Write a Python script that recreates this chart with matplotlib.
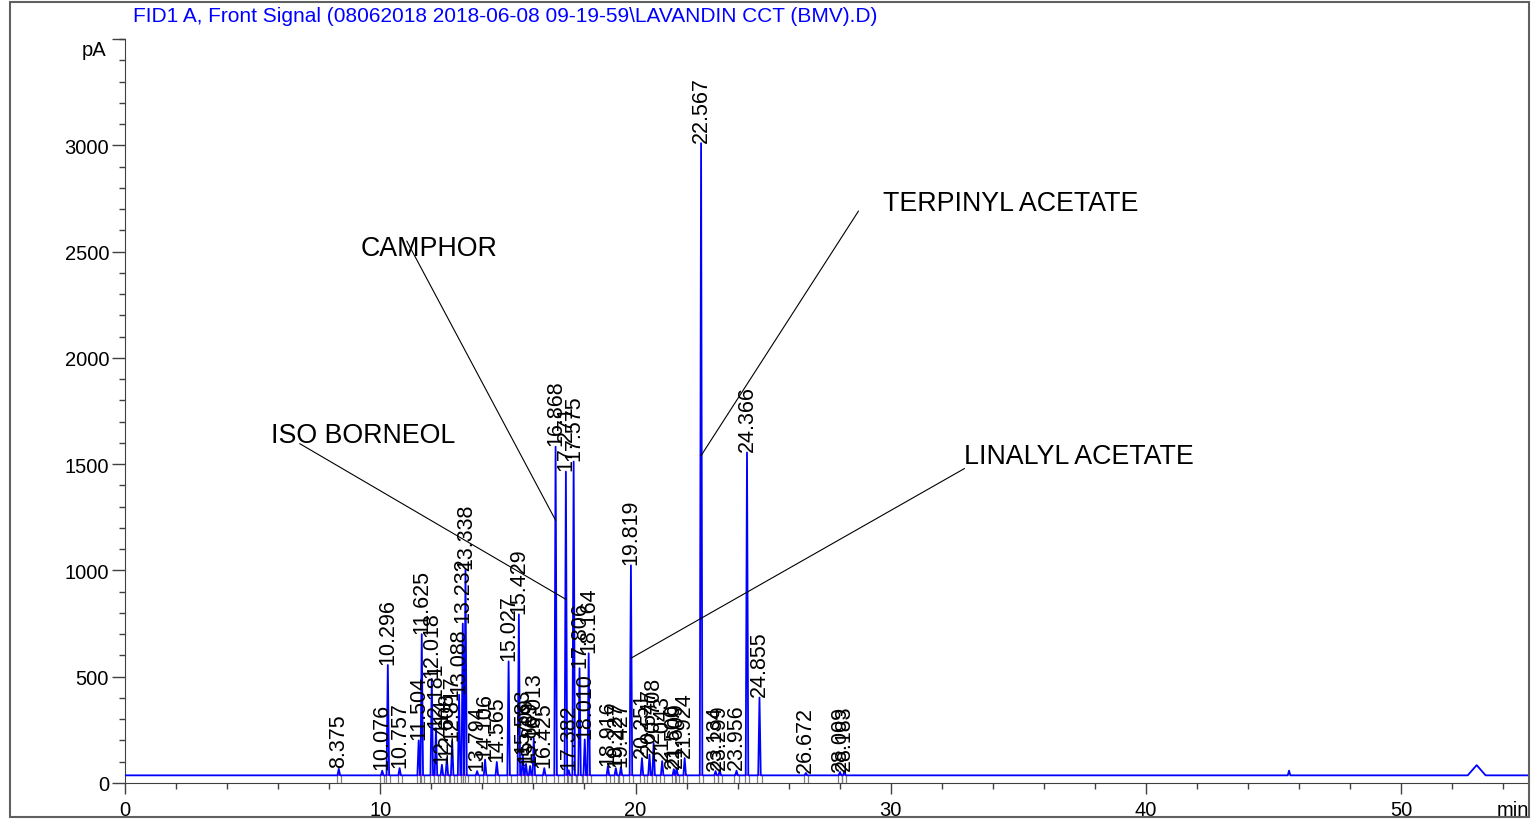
import numpy as np
import matplotlib
matplotlib.use("Agg")
from matplotlib import pyplot as plt
from matplotlib.patches import Rectangle

plt.rcParams['font.family'] = ['Liberation Sans', 'DejaVu Sans']

# peak retention times (min), apex heights (pA) and labels
peak_rt = [8.375, 10.076, 10.296, 10.757, 11.504, 11.625, 12.018, 12.181,
           12.414, 12.608, 12.817, 13.088, 13.232, 13.338, 13.794, 14.106,
           14.565, 15.027, 15.429, 15.583, 15.709, 15.869, 16.013, 16.425,
           16.868, 17.271, 17.382, 17.575, 17.806, 18.010, 18.164, 18.916,
           19.227, 19.427, 19.819, 20.251, 20.547, 20.708, 21.043, 21.500,
           21.609, 21.924, 22.567, 23.134, 23.299, 23.956, 24.366, 24.855,
           26.672, 28.009, 28.183]
peak_height = [67, 58, 555, 70, 200, 700, 490, 258,
               86, 117, 198, 415, 750, 1005, 56, 110,
               99, 572, 793, 133, 90, 80, 211, 70,
               1582, 1465, 60, 1512, 540, 205, 610, 80,
               70, 75, 1024, 117, 133, 188, 103, 65,
               70, 117, 3010, 56, 60, 58, 1555, 402,
               47, 52, 56]
peak_label = ["%.3f" % t for t in peak_rt]

# unlabeled features late in the run
extra_rt = [45.6, 52.95]
extra_height = [58, 84]
extra_width = [0.05, 0.35]

baseline = 36
run_end = 55

# named compounds: target peak rt, point on peak (pA), text position, line start
comp_name = ["CAMPHOR", "ISO BORNEOL", "TERPINYL ACETATE", "LINALYL ACETATE"]
comp_rt = [16.868, 17.271, 22.567, 19.819]
comp_hit = [1236, 864, 1540, 587]
comp_text_x = [9.24, 5.71, 29.7, 32.88]
comp_text_y = [2516, 1638, 2728, 1540]
comp_line_x = [11.04, 6.85, 28.73, 32.88]
comp_line_y = [2549, 1596, 2690, 1479]

title = "FID1 A, Front Signal (08062018 2018-06-08 09-19-59\\LAVANDIN CCT (BMV).D)"

# build the trace from the peak list
peaks = sorted(list(zip(peak_rt, peak_height, [0.05] * len(peak_rt))) +
               list(zip(extra_rt, extra_height, extra_width)))
xs = [0]
ys = [baseline]
for t, h, w in peaks:
    xs += [t - w, t, t + w]
    ys += [baseline, h, baseline]
xs.append(run_end)
ys.append(baseline)

fig = plt.figure(figsize=(15.31, 8.2), dpi=100)
ax = fig.add_axes([125 / 1531, 1 - 784 / 820, (1529 - 125) / 1531, (784 - 40) / 820])

# integration baselines and peak markers
ax.hlines([baseline] * len(peak_rt), np.array(peak_rt) - 0.08, np.array(peak_rt) + 0.08,
          color='magenta', lw=1.2, zorder=2)
ax.vlines(np.array(peak_rt) - 0.08, 0, baseline, color='#808080', lw=0.9, zorder=1)
ax.vlines(np.array(peak_rt) + 0.08, 0, baseline, color='#808080', lw=0.9, zorder=1)

ax.plot(xs, ys, color='#0000ff', lw=1.3, zorder=3)

for t, h, lab in zip(peak_rt, peak_height, peak_label):
    ax.annotate(lab, (t, h), xytext=(0, 1), textcoords='offset points',
                rotation=90, ha='center', va='bottom', fontsize=15.5, zorder=4)

for name, t, hit, tx, ty, lx, ly in zip(comp_name, comp_rt, comp_hit, comp_text_x,
                                        comp_text_y, comp_line_x, comp_line_y):
    ax.text(tx, ty, name, fontsize=19.3, ha='left', va='center', zorder=5)
    ax.plot([lx, t], [ly, hit], color='black', lw=0.8, zorder=5)

ax.set_xlim(0, run_end)
ax.set_ylim(0, 3500)
ax.set_xticks(np.arange(0, 51, 10))
ax.set_xticks(np.arange(0, 55, 2), minor=True)
ax.set_yticks(np.arange(0, 3001, 500))
ax.set_yticks(np.arange(0, 3501, 100), minor=True)
ax.tick_params(axis='both', which='both', width=1, color='#404040',
               labelsize=14.5, direction='out')
ax.tick_params(axis='x', which='major', length=8, pad=4)
ax.tick_params(axis='y', which='major', length=9.5, pad=2)
ax.tick_params(axis='both', which='minor', length=4)
for s in ['top', 'right']:
    ax.spines[s].set_visible(False)
for s in ['left', 'bottom']:
    ax.spines[s].set_color('#404040')
ax.plot([0], [3500], marker=0, markersize=9.5, color='#404040', clip_on=False, zorder=0)
ax.text(-0.74, 3450, "pA", fontsize=14.5, ha='right', va='center')
ax.annotate("min", (1.0, 0), xycoords='axes fraction', xytext=(0, -12),
            textcoords='offset points', fontsize=14.5, ha='right', va='top')

fig.text(133 / 1531, 1 - 17 / 820, title, color='#0000ff', fontsize=15,
         ha='left', va='center')
fig.patches.append(Rectangle((10 / 1531, 2 / 820), 1519 / 1531, 815 / 820,
                             transform=fig.transFigure, fill=False,
                             edgecolor='#606060', lw=1.5))

fig.savefig("out.png", dpi=100)
